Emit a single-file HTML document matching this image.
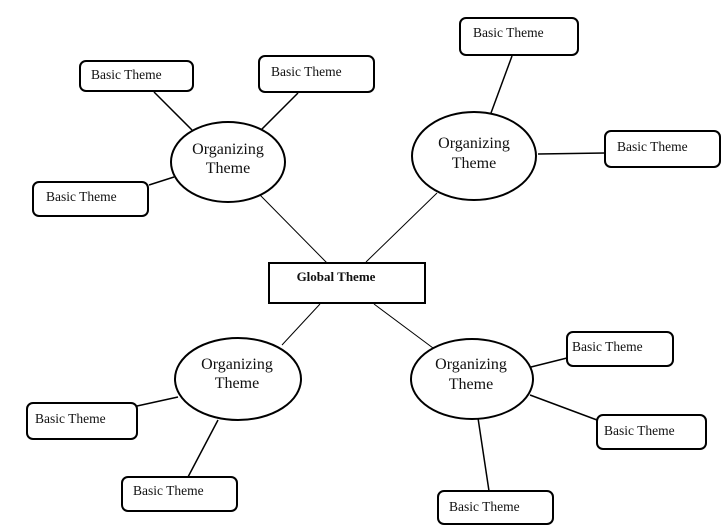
<!DOCTYPE html>
<html><head><meta charset="utf-8"><style>
html,body{margin:0;padding:0;background:#fff;}
svg{display:block;}
text{font-family:"Liberation Serif",serif;fill:#111;}
</style></head><body>
<svg width="726" height="528" viewBox="0 0 726 528" xmlns="http://www.w3.org/2000/svg">
<g stroke="#000" stroke-width="1.5" fill="none">
<line x1="154" y1="92" x2="192" y2="130"/>
<line x1="298" y1="93" x2="261" y2="130"/>
<line x1="149" y1="185" x2="174" y2="177"/>
<line x1="260" y1="195" x2="327" y2="263" stroke-width="1"/>
<line x1="512" y1="56" x2="491" y2="113"/>
<line x1="538" y1="154" x2="605" y2="153"/>
<line x1="437" y1="193" x2="366" y2="262" stroke-width="1"/>
<line x1="320" y1="304" x2="282" y2="345" stroke-width="1"/>
<line x1="137" y1="406" x2="178" y2="397"/>
<line x1="218" y1="420" x2="188" y2="477"/>
<line x1="374" y1="304" x2="433" y2="348" stroke-width="1"/>
<line x1="531" y1="367" x2="567" y2="358"/>
<line x1="530" y1="395" x2="597" y2="420"/>
<line x1="478" y1="418" x2="489" y2="491"/>
</g>
<g stroke="#000" stroke-width="2" fill="#fff">
<rect x="80" y="61" width="113" height="30" rx="6"/>
<rect x="259" y="56" width="115" height="36" rx="6"/>
<rect x="33" y="182" width="115" height="34" rx="6"/>
<rect x="460" y="18" width="118" height="37" rx="6"/>
<rect x="605" y="131" width="115" height="36" rx="6"/>
<rect x="27" y="403" width="110" height="36" rx="6"/>
<rect x="122" y="477" width="115" height="34" rx="6"/>
<rect x="567" y="332" width="106" height="34" rx="6"/>
<rect x="597" y="415" width="109" height="34" rx="6"/>
<rect x="438" y="491" width="115" height="33" rx="6"/>
<ellipse cx="228" cy="162" rx="57" ry="40"/>
<ellipse cx="474" cy="156" rx="62" ry="44"/>
<ellipse cx="238" cy="379" rx="63" ry="41"/>
<ellipse cx="472" cy="379" rx="61" ry="40"/>
<rect x="269" y="263" width="156" height="40" rx="0"/>
</g>
<g font-size="13.5">
<text x="91" y="79">Basic Theme</text>
<text x="271" y="76">Basic Theme</text>
<text x="46" y="201">Basic Theme</text>
<text x="473" y="37">Basic Theme</text>
<text x="617" y="151">Basic Theme</text>
<text x="35" y="423">Basic Theme</text>
<text x="133" y="495">Basic Theme</text>
<text x="572" y="351">Basic Theme</text>
<text x="604" y="435">Basic Theme</text>
<text x="449" y="511">Basic Theme</text>
</g>
<g font-size="16" text-anchor="middle">
<text x="228" y="154">Organizing</text><text x="228" y="173">Theme</text>
<text x="474" y="148">Organizing</text><text x="474" y="168">Theme</text>
<text x="237" y="369">Organizing</text><text x="237" y="388">Theme</text>
<text x="471" y="369">Organizing</text><text x="471" y="389">Theme</text>
</g>
<text x="336" y="281" font-size="13" font-weight="bold" text-anchor="middle">Global Theme</text>
</svg>
</body></html>
